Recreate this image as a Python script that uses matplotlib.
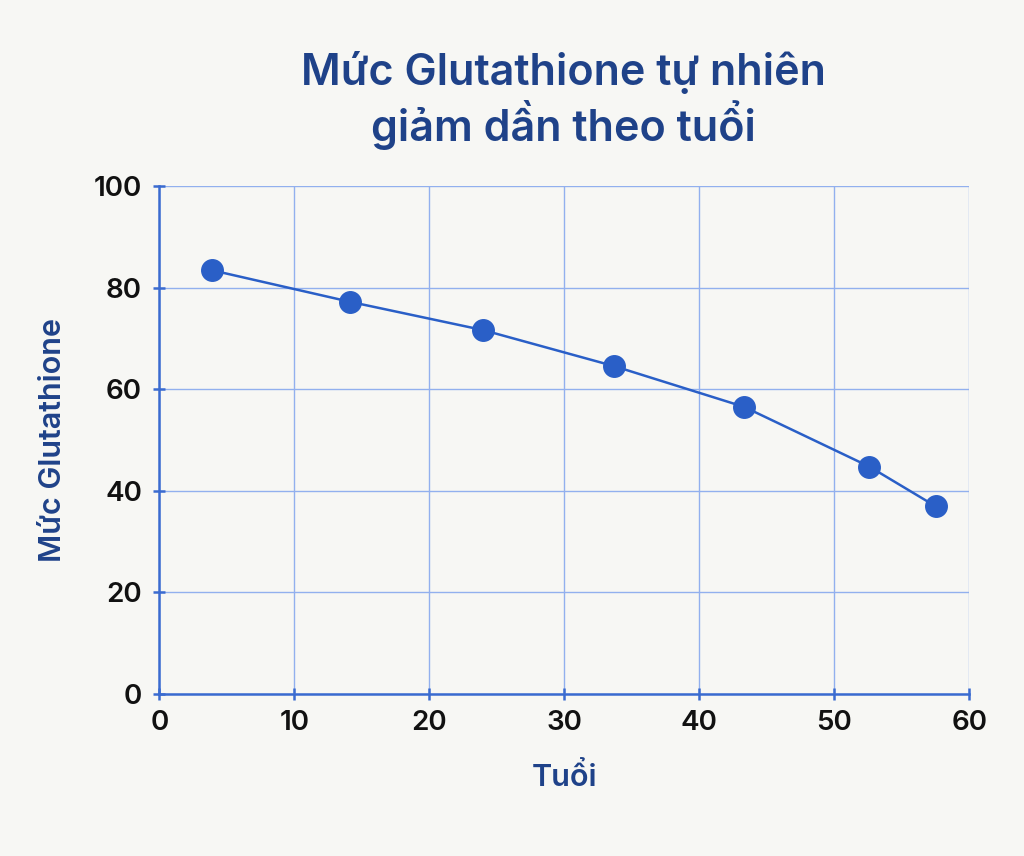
import matplotlib.pyplot as plt

plt.rcParams['font.family'] = ['Inter', 'DejaVu Sans']

# ages and glutathione levels
ages = [3.9, 14.1, 24.0, 33.7, 43.3, 52.6, 57.5]
levels = [83.4, 77.2, 71.6, 64.5, 56.5, 44.7, 36.9]

title = "Mức Glutathione tự nhiên\ngiảm dần theo tuổi"
x_label = "Tuổi"
y_label = "Mức Glutathione"
x_ticks = [0, 10, 20, 30, 40, 50, 60]
y_ticks = [0, 20, 40, 60, 80, 100]

bg = "#f7f7f4"
dark_blue = "#1f4289"
line_blue = "#2a5fc7"
spine_blue = "#3a6bd0"
grid_blue = "#92b0ee"

fig = plt.figure(figsize=(10.24, 8.56), dpi=100, facecolor=bg)
ax = fig.add_axes([0.1556, 0.1898, 0.7910, 0.5929])
ax.set_facecolor(bg)

ax.plot(ages, levels, color=line_blue, linewidth=1.8, marker="o",
        markersize=15.5, markerfacecolor=line_blue, markeredgecolor=line_blue,
        zorder=3)

ax.set_xlim(0, 60)
ax.set_ylim(0, 100)
ax.set_xticks(x_ticks)
ax.set_yticks(y_ticks)
ax.grid(True, color=grid_blue, linewidth=1.0)
ax.set_axisbelow(True)

for side in ["top", "right"]:
    ax.spines[side].set_visible(False)
for side in ["left", "bottom"]:
    ax.spines[side].set_color(spine_blue)
    ax.spines[side].set_linewidth(1.8)

ax.tick_params(axis="both", direction="inout", length=9, width=1.8,
               color=spine_blue, labelsize=20, labelcolor="#111111")
ax.tick_params(axis="x", pad=7)
ax.tick_params(axis="y", pad=8)
for lbl in ax.get_xticklabels() + ax.get_yticklabels():
    lbl.set_fontweight("semibold")

ax.set_xlabel(x_label, fontsize=22, color=dark_blue, fontweight="semibold",
              labelpad=20)
ax.set_ylabel(y_label, fontsize=22, color=dark_blue, fontweight="semibold",
              labelpad=19)

fig.text(0.55, 0.883, title, ha="center", va="center", fontsize=31,
         color=dark_blue, fontweight="semibold", linespacing=1.15)

fig.savefig("out.png", dpi=100, facecolor=bg)
